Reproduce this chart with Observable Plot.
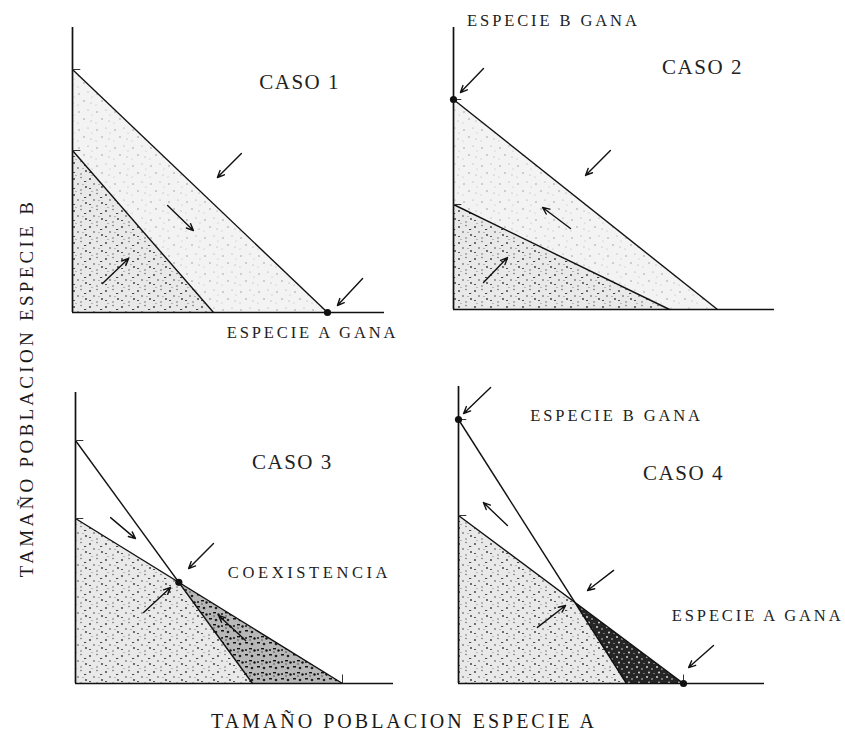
<!DOCTYPE html>
<html>
<head>
<meta charset="utf-8">
<script src="https://cdn.jsdelivr.net/npm/d3@7"></script>
<script src="https://cdn.jsdelivr.net/npm/@observablehq/plot@0.6"></script>
<style>
  body { margin: 0; background: #fff; }
  #root { position: relative; width: 845px; height: 738px; background: #fff; overflow: hidden; }
  .panel { position: absolute; }
  .title { position: absolute; white-space: nowrap; font-family: "Liberation Serif", serif; color: #1a1a1a; }
</style>
</head>
<body>
<svg width="0" height="0" style="position:absolute">
  <defs>
    <pattern id="light" width="18" height="18" patternUnits="userSpaceOnUse">
      <rect width="18" height="18" fill="#f3f3f3"/>
      <circle cx="3" cy="4" r="0.7" fill="#8a8a8a"/>
      <circle cx="12" cy="2" r="0.6" fill="#999"/>
      <circle cx="8" cy="11" r="0.7" fill="#8a8a8a"/>
      <circle cx="15" cy="13" r="0.6" fill="#999"/>
      <circle cx="2" cy="15" r="0.5" fill="#aaa"/>
      <circle cx="16" cy="7" r="0.5" fill="#aaa"/>
    </pattern>
    <pattern id="medium" width="16" height="16" patternUnits="userSpaceOnUse">
      <rect width="16" height="16" fill="#e9e9e9"/>
      <circle cx="2" cy="3" r="0.9" fill="#333"/>
      <circle cx="9" cy="1.5" r="0.7" fill="#555"/>
      <rect x="12" y="5" width="2.2" height="0.9" fill="#333"/>
      <circle cx="6" cy="8" r="0.8" fill="#444"/>
      <circle cx="14" cy="11" r="0.9" fill="#333"/>
      <rect x="1" y="12" width="2" height="0.9" fill="#444"/>
      <circle cx="9" cy="14" r="0.7" fill="#555"/>
      <circle cx="4" cy="15.5" r="0.5" fill="#666"/>
      <circle cx="11" cy="8.5" r="0.5" fill="#666"/>
    </pattern>
    <pattern id="dark3" width="12" height="12" patternUnits="userSpaceOnUse">
      <rect width="12" height="12" fill="#b8b8b8"/>
      <rect x="1" y="1" width="3" height="1.5" fill="#111"/>
      <circle cx="8" cy="3" r="1.3" fill="#222"/>
      <rect x="5" y="7" width="3" height="1.4" fill="#111"/>
      <circle cx="2" cy="9" r="1.1" fill="#222"/>
      <circle cx="10.5" cy="9.5" r="1.2" fill="#111"/>
      <circle cx="6" cy="11" r="0.7" fill="#333"/>
    </pattern>
    <pattern id="dark4" width="10" height="10" patternUnits="userSpaceOnUse">
      <rect width="10" height="10" fill="#262626"/>
      <circle cx="2" cy="2" r="0.9" fill="#e8e8e8"/>
      <circle cx="7" cy="4" r="0.8" fill="#ddd"/>
      <circle cx="4" cy="7.5" r="0.9" fill="#e8e8e8"/>
      <circle cx="9" cy="8.5" r="0.6" fill="#ccc"/>
    </pattern>
  </defs>
</svg>
<div id="root"></div>
<script>
// ---------- data (units) ----------
const casos = ["CASO 1", "CASO 2", "CASO 3", "CASO 4"];
const xTitle = "TAMAÑO POBLACION ESPECIE A";
const yTitle = "TAMAÑO POBLACION ESPECIE B";

// Species A isocline: from (K_A, 0) to (0, K_A/alpha)
const isoA_x = [85, 72, 89, 75];
const isoA_y = [81, 35, 55, 56];
// Species B isocline: from (0, K_B) to (K_B/beta, 0)
const isoB_y = [54, 70, 81, 88];
const isoB_x = [47, 88, 59, 56];

// axis extent of each panel
const axisMaxX = [104, 107, 106, 102];
const axisMaxY = [95, 94, 97, 99];

// stable equilibria shown as dots: "A" = (K_A,0), "B" = (0,K_B), "AB" = intersection
const stableEq = [["A"], ["B"], ["AB"], ["B", "A"]];

// trajectory arrows [x1, y1, x2, y2]
const arrows1 = [[56.3, 53, 48.3, 45], [31.7, 35.7, 40.3, 27.3], [10, 9.7, 18.7, 18], [96.7, 11.3, 88.3, 2.3]];
const arrows2 = [[10, 80.3, 2.3, 72.3], [52.3, 53, 44, 44.7], [39, 27, 29.7, 34], [10, 9, 18, 17.3]];
const arrows3 = [[11.7, 55.3, 20, 48.3], [46, 46.7, 37.7, 38.3], [22.7, 23.7, 31.7, 32], [56.7, 14.3, 47.7, 22.7]];
const arrows4 = [[10.7, 98.7, 1.7, 90], [16.3, 52.7, 8.3, 60.3], [51.7, 37.7, 43, 31], [26.3, 18.7, 35.7, 26], [85, 12.7, 76.7, 5.3]];
const arrows = [arrows1, arrows2, arrows3, arrows4];

// annotation texts
const winTexts = [
  [{t: "ESPECIE A GANA", x: 80, y: -6.7}],
  [{t: "ESPECIE B GANA", x: 33.3, y: 96.3}],
  [{t: "COEXISTENCIA", x: 78, y: 37}],
  [{t: "ESPECIE B GANA", x: 52.7, y: 89.3}, {t: "ESPECIE A GANA", x: 99.7, y: 22.7}]
];
const casoPos = [[75.7, 76.7], [83, 80.7], [72.3, 73.7], [75, 70]];

// ---------- layout (pixels) ----------
const UNIT = 3;
const layout = [
  {left: 40, top: 0, w: 380, h: 360, ox: 72, oy: 312},
  {left: 425, top: 0, w: 420, h: 360, ox: 453, oy: 309},
  {left: 40, top: 365, w: 380, h: 335, ox: 75, oy: 683},
  {left: 425, top: 365, w: 420, h: 335, ox: 458, oy: 683}
];
const betweenFill = [["light", "light"], ["light", "light"], [null, "dark3"], [null, "dark4"]];
const FONT = "Liberation Serif";

const root = document.getElementById("root");

for (let i = 0; i < 4; i++) {
  const L = layout[i];
  const xMax = axisMaxX[i], yMax = axisMaxY[i];
  const lA = {a: isoA_x[i], b: isoA_y[i]};
  const lB = {a: isoB_x[i], b: isoB_y[i]};
  const f = (l, x) => Math.max(0, l.b * (1 - x / l.a));
  const sA = lA.b / lA.a, sB = lB.b / lB.a;
  let xi = null;
  if (Math.abs(sA - sB) > 1e-9) {
    const x = (lA.b - lB.b) / (sA - sB);
    if (x > 0 && x < Math.min(lA.a, lB.a)) xi = x;
  }
  const xs = [0, lA.a, lB.a].concat(xi != null ? [xi] : []).sort((a, b) => a - b);
  const pts = xs.map(x => ({x, lo: Math.min(f(lA, x), f(lB, x)), hi: Math.max(f(lA, x), f(lB, x))}));
  const leftPart = xi != null ? pts.filter(p => p.x <= xi + 1e-9) : pts;
  const rightPart = xi != null ? pts.filter(p => p.x >= xi - 1e-9) : pts;

  const eqPts = stableEq[i].map(k => k === "A" ? {x: lA.a, y: 0} : k === "B" ? {x: 0, y: lB.b} : {x: xi, y: f(lA, xi)});

  const marks = [];
  marks.push(Plot.areaY(pts, {x: "x", y1: () => 0, y2: "lo", fill: "url(#medium)", curve: "linear"}));
  if (xi == null) {
    marks.push(Plot.areaY(pts, {x: "x", y1: "lo", y2: "hi", fill: "url(#" + betweenFill[i][0] + ")", curve: "linear"}));
  } else {
    if (betweenFill[i][0]) marks.push(Plot.areaY(leftPart, {x: "x", y1: "lo", y2: "hi", fill: "url(#" + betweenFill[i][0] + ")"}));
    marks.push(Plot.areaY(rightPart, {x: "x", y1: "lo", y2: "hi", fill: "url(#" + betweenFill[i][1] + ")"}));
  }
  marks.push(Plot.ruleX([0], {y1: 0, y2: yMax, stroke: "#111", strokeWidth: 1.7}));
  marks.push(Plot.ruleY([0], {x1: 0, x2: xMax, stroke: "#111", strokeWidth: 1.7}));
  marks.push(Plot.link([lA, lB], {x1: () => 0, y1: "b", x2: "a", y2: () => 0, stroke: "#111", strokeWidth: 1.4}));
  marks.push(Plot.link([lA, lB], {x1: () => 0, y1: "b", x2: () => 2.6, y2: "b", stroke: "#333", strokeWidth: 1}));
  if (i >= 2) marks.push(Plot.link([lA], {x1: "a", y1: () => 0, x2: "a", y2: () => 3, stroke: "#333", strokeWidth: 1}));
  marks.push(Plot.arrow(arrows[i], {x1: d => d[0], y1: d => d[1], x2: d => d[2], y2: d => d[3], stroke: "#111", strokeWidth: 1.4, headLength: 8, headAngle: 48}));
  marks.push(Plot.dot(eqPts, {x: "x", y: "y", r: 3.6, fill: "#111", stroke: "none"}));
  marks.push(Plot.text([casos[i]], {x: () => casoPos[i][0], y: () => casoPos[i][1], text: d => d, fontSize: 21, fontFamily: FONT, fill: "#222"}));
  marks.push(Plot.text(winTexts[i], {x: "x", y: "y", text: "t", fontSize: 16.5, fontFamily: FONT, fill: "#222"}));

  const chart = Plot.plot({
    width: L.w,
    height: L.h,
    marginLeft: L.ox - L.left,
    marginTop: L.oy - yMax * UNIT - L.top,
    marginBottom: L.top + L.h - L.oy,
    marginRight: L.left + L.w - L.ox - xMax * UNIT,
    x: {domain: [0, xMax], axis: null},
    y: {domain: [0, yMax], axis: null},
    style: {background: "transparent", fontFamily: FONT, overflow: "visible"},
    marks
  });
  d3.select(chart).selectAll("text").each(function() {
    const s = this.textContent;
    this.style.letterSpacing = s.startsWith("CASO") ? "1.5px" : (s === "COEXISTENCIA" ? "3.6px" : "2.9px");
  });
  chart.classList.add("panel");
  chart.style.left = L.left + "px";
  chart.style.top = L.top + "px";
  chart.style.position = "absolute";
  root.appendChild(chart);
}

const yt = document.createElement("div");
yt.className = "title";
yt.textContent = yTitle;
Object.assign(yt.style, {left: "27px", top: "388px", fontSize: "19px", letterSpacing: "3.3px", transform: "translate(-50%,-50%) rotate(-90deg)"});
root.appendChild(yt);

const xt = document.createElement("div");
xt.className = "title";
xt.textContent = xTitle;
Object.assign(xt.style, {left: "404px", top: "721px", fontSize: "20px", letterSpacing: "3px", transform: "translate(-50%,-50%)"});
root.appendChild(xt);
</script>
</body>
</html>
